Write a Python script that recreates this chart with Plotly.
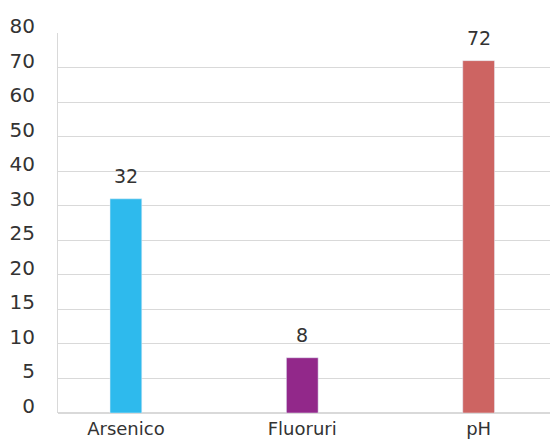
import numpy as np
import plotly.graph_objects as go

# data
categories = ["Arsenico", "Fluoruri", "pH"]
values = [32, 8, 72]
bar_colors = ["#2EBAED", "#92288A", "#CD6462"]

# the axis in the source is not linear: 5 by 5 up to 30, then 10 by 10
tick_values = [0, 5, 10, 15, 20, 25, 30, 40, 50, 60, 70, 80]
tick_labels = [str(v) for v in tick_values]
tick_pos = list(range(len(tick_values)))

# map each value onto the broken scale
y_scaled = np.interp(values, tick_values, tick_pos)

font_family = "'DejaVu Sans', sans-serif"
text_color = "#333333"

fig = go.Figure(go.Bar(
    x=list(range(len(categories))),
    y=y_scaled,
    marker_color=bar_colors,
    width=0.18,
    cliponaxis=False,
))

# value labels above the bars
for i, v in enumerate(values):
    fig.add_annotation(
        x=i, y=y_scaled[i], text=str(v),
        showarrow=False, yanchor="bottom", yshift=10,
        font=dict(size=19, color=text_color, family=font_family),
    )

# the html page adds an 8px body margin, so the figure is 8px smaller
fig.update_layout(
    width=550,
    height=431,
    margin=dict(l=50, r=0, t=25, b=26),
    plot_bgcolor="white",
    paper_bgcolor="white",
    showlegend=False,
    font=dict(family=font_family, color=text_color),
)

fig.update_xaxes(
    tickvals=list(range(len(categories))),
    ticktext=categories,
    range=[-0.385, 2.45],
    showgrid=False,
    zeroline=False,
    showline=False,
    automargin=False,
    tickfont=dict(size=18, color=text_color),
    ticklabelstandoff=3,
)

fig.update_yaxes(
    range=[0, len(tick_values) - 1],
    tickvals=tick_pos,
    ticktext=tick_labels,
    showgrid=True,
    gridcolor="#D9D9D9",
    gridwidth=1,
    zeroline=True,
    zerolinecolor="#D9D9D9",
    showline=True,
    linecolor="#D9D9D9",
    linewidth=1,
    automargin=False,
    tickfont=dict(size=20, color=text_color),
    ticklabelshift=-7,
    ticklabelstandoff=18,
)

fig.write_html("out.html")
